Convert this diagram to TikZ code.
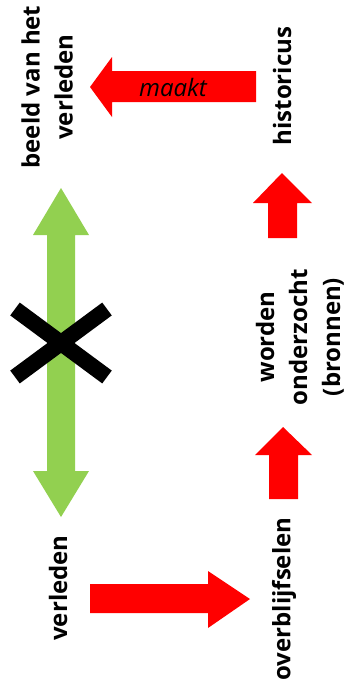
\documentclass[tikz,border=0pt]{standalone}
\usepackage{fontspec}
\setmainfont{Open Sans}
\definecolor{arrred}{HTML}{FF0000}
\definecolor{arrgreen}{HTML}{92D050}
\begin{document}
\begin{tikzpicture}[x=1pt,y=-1pt,
  lbl/.style={font=\fontsize{24}{33}\selectfont\bfseries, rotate=90, align=center, inner sep=0pt},
  redarrow/.style={fill=arrred, draw=none},
  greenarrow/.style={fill=arrgreen, draw=none},
  cross/.style={line width=16pt, draw=black}]
\useasboundingbox (0,0) rectangle (347,686);
% labels
\node[lbl] (beeld) at (47,87) {beeld van het\\verleden};
\node[lbl] (hist) at (282,86) {historicus};
\node[lbl] (worden) at (300,337) {worden\\onderzocht\\(bronnen)};
\node[lbl] (verl) at (58,588) {verleden};
\node[lbl] (over) at (284,599) {overblijfselen};
% top arrow (historicus -> beeld)
\fill[redarrow] (90,87) -- (112,57) -- (112,71) -- (256,71) -- (256,102) -- (112,102) -- (112,117) -- cycle;
\node[font=\fontsize{24}{28}\selectfont\itshape, inner sep=0pt] (maakt) at (173,87) {maakt};
% green double arrow
\fill[greenarrow] (61,188) -- (89,235) -- (75,235) -- (75,471) -- (89,471) -- (61,517) -- (33,471) -- (47,471) -- (47,235) -- (33,235) -- cycle;
% black cross
\coordinate (xc) at (61,343);
\draw[cross] (15,309) -- (107,377);
\draw[cross] (15,377) -- (107,309);
% right arrows up
\fill[redarrow] (282,173) -- (312,203) -- (297,203) -- (297,238) -- (268,238) -- (268,203) -- (253,203) -- cycle;
\fill[redarrow] (283,427) -- (312,455) -- (298,455) -- (298,499) -- (269,499) -- (269,455) -- (255,455) -- cycle;
% bottom arrow right
\fill[redarrow] (90,584) -- (208,584) -- (208,571) -- (250,599) -- (208,628) -- (208,613) -- (90,613) -- cycle;
\end{tikzpicture}
\end{document}
